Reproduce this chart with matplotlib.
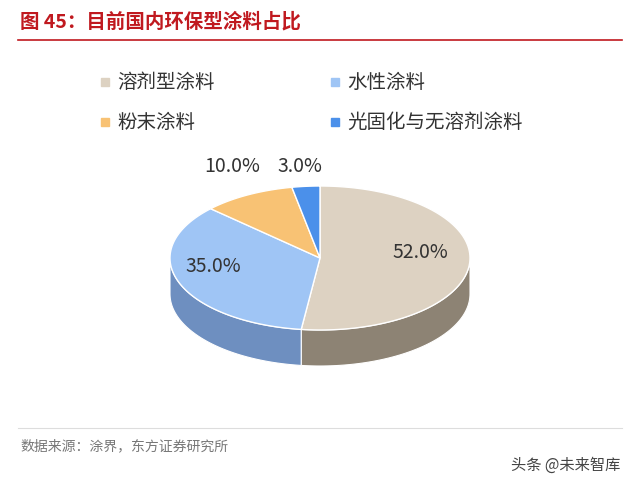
import matplotlib.pyplot as plt
import numpy as np
from matplotlib.patches import Polygon, Rectangle

plt.rcParams["font.family"] = "Noto Sans CJK SC"

# data
labels = ["溶剂型涂料", "水性涂料", "粉末涂料", "光固化与无溶剂涂料"]
shares = [52.0, 35.0, 10.0, 3.0]
top_colors = ["#ddd2c2", "#9fc5f5", "#f8c274", "#4b90ea"]
side_colors = ["#8d8374", "#6e8fc0", "#b58a4e", "#3a6fb5"]

fig = plt.figure(figsize=(6.4, 4.88), dpi=100)
ax = fig.add_axes([0, 0, 1, 1])
ax.set_xlim(0, 640)
ax.set_ylim(488, 0)
ax.axis("off")

# title and rule
ax.text(20, 22, "图 45：目前国内环保型涂料占比", color="#c0191f", fontsize=14,
        fontweight="bold", va="center")
ax.plot([18, 622], [40, 40], color="#c0191f", lw=1.2)

# legend
leg_pos = [(105, 82), (335, 82), (105, 122), (335, 122)]
for (lx, ly), lab, c in zip(leg_pos, labels, top_colors):
    ax.add_patch(Rectangle((lx - 4, ly - 4), 8, 8, color=c))
    ax.text(lx + 12, ly, lab, fontsize=14, va="center", color="#333333")

# 3d pie
cx, cy, rx, ry, depth = 320, 258, 150, 72, 36


def pt(t):
    return cx + rx * np.cos(t), cy - ry * np.sin(t)


start = 90.0
bounds = []
for s in shares:
    end = start - s * 3.6
    bounds.append((start, end))
    start = end

# side walls (front half: angles -180..0)
for (a0, a1), sc in zip(bounds, side_colors):
    lo, hi = max(min(a0, a1), -180), min(max(a0, a1), 0)
    if lo >= hi:
        continue
    ts = np.radians(np.linspace(lo, hi, 80))
    xs, ys = pt(ts)
    poly = list(zip(xs, ys)) + list(zip(xs[::-1], ys[::-1] + depth))
    ax.add_patch(Polygon(poly, closed=True, facecolor=sc, edgecolor="white", lw=0.8))

# tops
for (a0, a1), tc in zip(bounds, top_colors):
    ts = np.radians(np.linspace(a0, a1, 120))
    xs, ys = pt(ts)
    poly = [(cx, cy)] + list(zip(xs, ys))
    ax.add_patch(Polygon(poly, closed=True, facecolor=tc, edgecolor="white", lw=1))

# value labels
label_xy = [(420, 253), (213, 266), (232, 166), (300, 166)]
for (x, y), s in zip(label_xy, shares):
    ax.text(x, y, f"{s:.1f}%", fontsize=14, ha="center", va="center", color="#333333")

# footer
ax.plot([18, 622], [428, 428], color="#dddddd", lw=0.8)
ax.text(20, 446, "数据来源：涂界，东方证券研究所", fontsize=10, color="#777777", va="center")
ax.text(620, 465, "头条 @未来智库", fontsize=11, color="#444444", va="center", ha="right")

fig.savefig("out.png", dpi=100)
